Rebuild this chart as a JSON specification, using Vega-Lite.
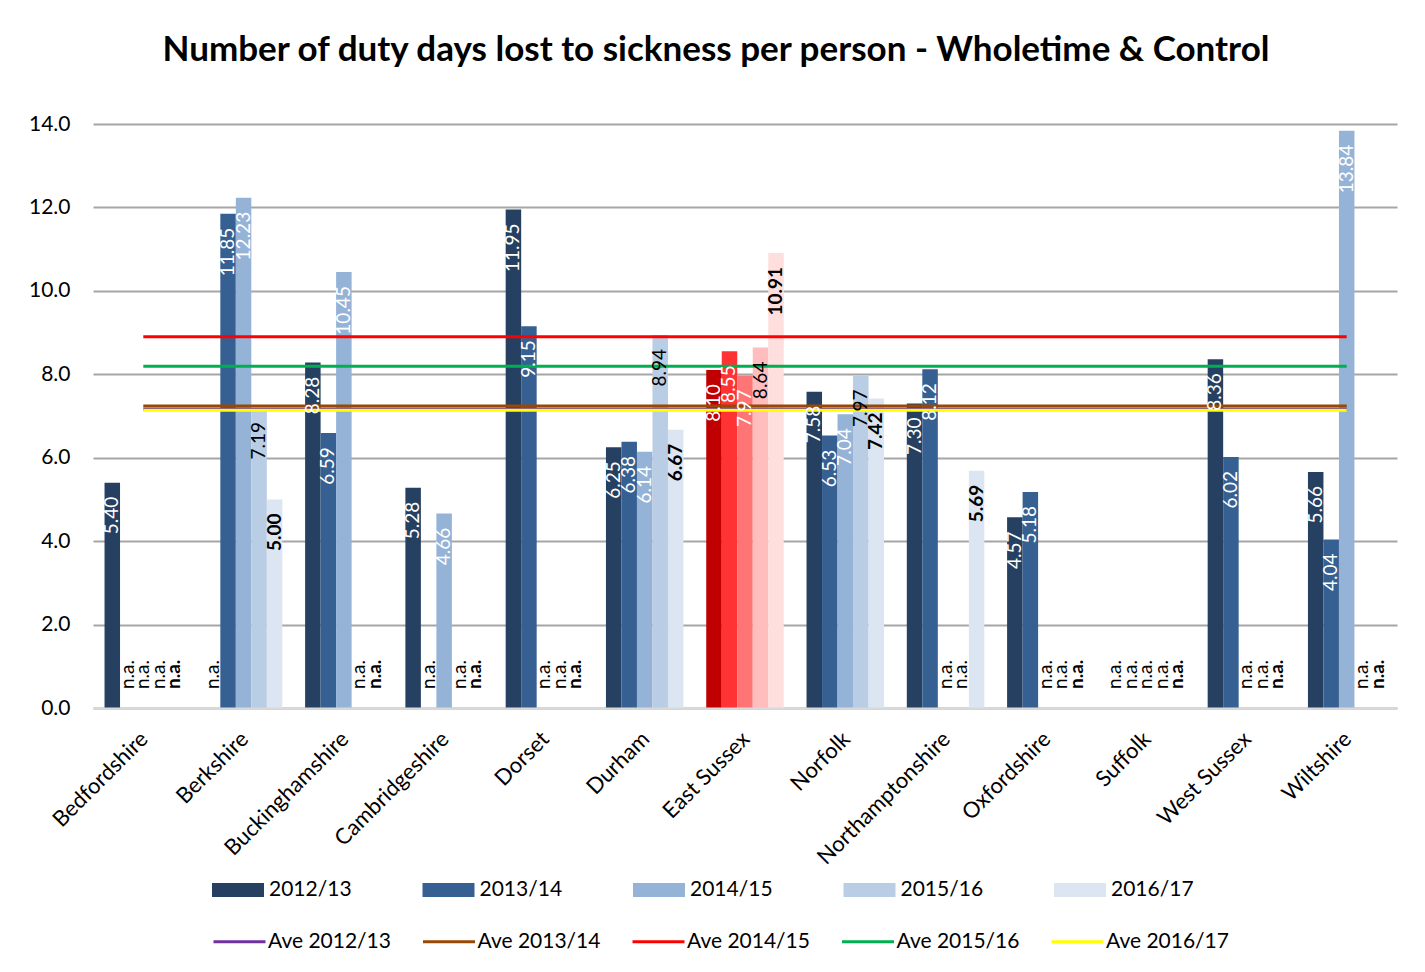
{
  "$schema": "https://vega.github.io/schema/vega-lite/v6.json",
  "width": 1304,
  "height": 584,
  "autosize": {"type": "none"},
  "padding": {"left": 93, "top": 124, "right": 28, "bottom": 264},
  "background": "white",
  "config": {
    "font": "Lato",
    "view": {"stroke": null},
    "axis": {"labelFont": "Lato", "labelColor": "black"}
  },
  "title": {
    "text": "Number of duty days lost to sickness per person - Wholetime & Control",
    "font": "Lato",
    "fontSize": 35,
    "fontWeight": "bold",
    "color": "black",
    "anchor": "middle",
    "offset": 45,
    "dx": -29
  },
  "datasets": {
    "bars": [
      {"county": "Bedfordshire", "year": "2012/13", "value": 5.40},
      {"county": "Bedfordshire", "year": "2013/14", "value": null},
      {"county": "Bedfordshire", "year": "2014/15", "value": null},
      {"county": "Bedfordshire", "year": "2015/16", "value": null},
      {"county": "Bedfordshire", "year": "2016/17", "value": null},
      {"county": "Berkshire", "year": "2012/13", "value": null},
      {"county": "Berkshire", "year": "2013/14", "value": 11.85},
      {"county": "Berkshire", "year": "2014/15", "value": 12.23},
      {"county": "Berkshire", "year": "2015/16", "value": 7.19},
      {"county": "Berkshire", "year": "2016/17", "value": 5.00},
      {"county": "Buckinghamshire", "year": "2012/13", "value": 8.28},
      {"county": "Buckinghamshire", "year": "2013/14", "value": 6.59},
      {"county": "Buckinghamshire", "year": "2014/15", "value": 10.45},
      {"county": "Buckinghamshire", "year": "2015/16", "value": null},
      {"county": "Buckinghamshire", "year": "2016/17", "value": null},
      {"county": "Cambridgeshire", "year": "2012/13", "value": 5.28},
      {"county": "Cambridgeshire", "year": "2013/14", "value": null},
      {"county": "Cambridgeshire", "year": "2014/15", "value": 4.66},
      {"county": "Cambridgeshire", "year": "2015/16", "value": null},
      {"county": "Cambridgeshire", "year": "2016/17", "value": null},
      {"county": "Dorset", "year": "2012/13", "value": 11.95},
      {"county": "Dorset", "year": "2013/14", "value": 9.15},
      {"county": "Dorset", "year": "2014/15", "value": null},
      {"county": "Dorset", "year": "2015/16", "value": null},
      {"county": "Dorset", "year": "2016/17", "value": null},
      {"county": "Durham", "year": "2012/13", "value": 6.25},
      {"county": "Durham", "year": "2013/14", "value": 6.38},
      {"county": "Durham", "year": "2014/15", "value": 6.14},
      {"county": "Durham", "year": "2015/16", "value": 8.94},
      {"county": "Durham", "year": "2016/17", "value": 6.67},
      {"county": "East Sussex", "year": "2012/13", "value": 8.10},
      {"county": "East Sussex", "year": "2013/14", "value": 8.55},
      {"county": "East Sussex", "year": "2014/15", "value": 7.97},
      {"county": "East Sussex", "year": "2015/16", "value": 8.64},
      {"county": "East Sussex", "year": "2016/17", "value": 10.91},
      {"county": "Norfolk", "year": "2012/13", "value": 7.58},
      {"county": "Norfolk", "year": "2013/14", "value": 6.53},
      {"county": "Norfolk", "year": "2014/15", "value": 7.04},
      {"county": "Norfolk", "year": "2015/16", "value": 7.97},
      {"county": "Norfolk", "year": "2016/17", "value": 7.42},
      {"county": "Northamptonshire", "year": "2012/13", "value": 7.30},
      {"county": "Northamptonshire", "year": "2013/14", "value": 8.12},
      {"county": "Northamptonshire", "year": "2014/15", "value": null},
      {"county": "Northamptonshire", "year": "2015/16", "value": null},
      {"county": "Northamptonshire", "year": "2016/17", "value": 5.69},
      {"county": "Oxfordshire", "year": "2012/13", "value": 4.57},
      {"county": "Oxfordshire", "year": "2013/14", "value": 5.18},
      {"county": "Oxfordshire", "year": "2014/15", "value": null},
      {"county": "Oxfordshire", "year": "2015/16", "value": null},
      {"county": "Oxfordshire", "year": "2016/17", "value": null},
      {"county": "Suffolk", "year": "2012/13", "value": null},
      {"county": "Suffolk", "year": "2013/14", "value": null},
      {"county": "Suffolk", "year": "2014/15", "value": null},
      {"county": "Suffolk", "year": "2015/16", "value": null},
      {"county": "Suffolk", "year": "2016/17", "value": null},
      {"county": "West Sussex", "year": "2012/13", "value": 8.36},
      {"county": "West Sussex", "year": "2013/14", "value": 6.02},
      {"county": "West Sussex", "year": "2014/15", "value": null},
      {"county": "West Sussex", "year": "2015/16", "value": null},
      {"county": "West Sussex", "year": "2016/17", "value": null},
      {"county": "Wiltshire", "year": "2012/13", "value": 5.66},
      {"county": "Wiltshire", "year": "2013/14", "value": 4.04},
      {"county": "Wiltshire", "year": "2014/15", "value": 13.84},
      {"county": "Wiltshire", "year": "2015/16", "value": null},
      {"county": "Wiltshire", "year": "2016/17", "value": null}
    ],
    "averages": [
      {"series": "Ave 2012/13", "ave": 7.16},
      {"series": "Ave 2013/14", "ave": 7.24},
      {"series": "Ave 2014/15", "ave": 8.90},
      {"series": "Ave 2015/16", "ave": 8.19},
      {"series": "Ave 2016/17", "ave": 7.14}
    ]
  },
  "layer": [
    {
      "data": {"name": "bars"},
      "transform": [{"filter": "datum.county !== 'East Sussex'"}],
      "mark": {"type": "bar"},
      "encoding": {
        "x": {
          "field": "county", "type": "nominal", "sort": null,
          "scale": {"domain": ["Bedfordshire", "Berkshire", "Buckinghamshire", "Cambridgeshire", "Dorset", "Durham", "East Sussex", "Norfolk", "Northamptonshire", "Oxfordshire", "Suffolk", "West Sussex", "Wiltshire"], "paddingInner": 0.227, "paddingOuter": 0.115},
          "axis": {"title": null, "labelAngle": -45, "ticks": false, "labelFontSize": 22, "labelPadding": 20, "labelOffset": -6, "domainColor": "#d9d9d9", "domainWidth": 2, "zindex": 1}
        },
        "xOffset": {"field": "year", "type": "nominal", "sort": null, "scale": {"domain": ["2012/13", "2013/14", "2014/15", "2015/16", "2016/17"], "paddingInner": 0, "paddingOuter": 0}},
        "y": {
          "field": "value", "type": "quantitative",
          "scale": {"domain": [0, 14], "nice": false},
          "axis": {"title": null, "values": [0, 2, 4, 6, 8, 10, 12, 14], "format": ".1f", "labelFontSize": 21, "labelPadding": 23, "ticks": false, "domain": false, "gridColor": "#a6a6a6", "gridWidth": 2}
        },
        "color": {
          "field": "year", "type": "nominal",
          "scale": {"domain": ["2012/13", "2013/14", "2014/15", "2015/16", "2016/17"], "range": ["#264061", "#376092", "#95b3d7", "#b9cde5", "#dce6f2"]},
          "legend": {"title": null, "orient": "none", "legendX": 119, "legendY": 740, "direction": "horizontal", "columns": 5, "gridAlign": "all", "columnPadding": 70.5, "symbolType": "M-1,-0.27L1,-0.27L1,0.27L-1,0.27Z", "symbolSize": 2704, "symbolStrokeWidth": 0, "symbolOpacity": 1, "labelFontSize": 21, "labelFont": "Lato", "labelColor": "black", "labelOffset": 5}
        }
      }
    },
    {
      "data": {"name": "bars"},
      "transform": [{"filter": "datum.county === 'East Sussex'"}],
      "mark": {"type": "bar"},
      "encoding": {
        "x": {"field": "county", "type": "nominal", "sort": null},
        "xOffset": {"field": "year", "type": "nominal", "sort": null},
        "y": {"field": "value", "type": "quantitative"},
        "fill": {
          "field": "year", "type": "nominal",
          "scale": {"domain": ["2012/13", "2013/14", "2014/15", "2015/16", "2016/17"], "range": ["#c00000", "#ff3333", "#ff7575", "#ffbdbd", "#ffdede"]},
          "legend": null
        }
      }
    },
    {
      "data": {"name": "averages"},
      "mark": {"type": "rule", "strokeWidth": 3},
      "encoding": {
        "x": {"datum": "Bedfordshire", "type": "nominal", "bandPosition": 0.5},
        "x2": {"datum": "Wiltshire", "bandPosition": 0.5},
        "y": {"field": "ave", "type": "quantitative"},
        "stroke": {
          "field": "series", "type": "nominal",
          "scale": {"domain": ["Ave 2012/13", "Ave 2013/14", "Ave 2014/15", "Ave 2015/16", "Ave 2016/17"], "range": ["#7030a0", "#974806", "#ff0000", "#00b050", "#ffff00"]},
          "legend": {"title": null, "orient": "none", "legendX": 119, "legendY": 790, "direction": "horizontal", "columns": 5, "gridAlign": "all", "columnPadding": 25.5, "symbolType": "stroke", "symbolSize": 2704, "symbolStrokeWidth": 3, "labelFontSize": 21, "labelFont": "Lato", "labelColor": "black", "labelOffset": 1}
        }
      }
    },
    {
      "data": {"name": "bars"},
      "transform": [{"filter": "datum.value !== null && datum.year !== '2016/17'"}],
      "mark": {"type": "text", "angle": -90, "align": "right", "baseline": "middle", "dx": -14, "fontSize": 19, "font": "Lato"},
      "encoding": {
        "x": {"field": "county", "type": "nominal", "sort": null},
        "xOffset": {"field": "year", "type": "nominal", "sort": null},
        "y": {"field": "value", "type": "quantitative"},
        "text": {"field": "value", "type": "quantitative", "format": ".2f"},
        "color": {"condition": {"test": "datum.year === '2015/16'", "value": "black"}, "value": "white"}
      }
    },
    {
      "data": {"name": "bars"},
      "transform": [{"filter": "datum.value !== null && datum.year === '2016/17'"}],
      "mark": {"type": "text", "angle": -90, "align": "right", "baseline": "middle", "dx": -14, "fontSize": 19, "font": "Lato", "fontWeight": "bold", "color": "black"},
      "encoding": {
        "x": {"field": "county", "type": "nominal", "sort": null},
        "xOffset": {"field": "year", "type": "nominal", "sort": null},
        "y": {"field": "value", "type": "quantitative"},
        "text": {"field": "value", "type": "quantitative", "format": ".2f"}
      }
    },
    {
      "data": {"name": "bars"},
      "transform": [{"filter": "datum.value === null && datum.year !== '2016/17'"}],
      "mark": {"type": "text", "angle": -90, "align": "left", "baseline": "middle", "dx": 19, "fontSize": 19, "font": "Lato", "color": "black"},
      "encoding": {
        "x": {"field": "county", "type": "nominal", "sort": null},
        "xOffset": {"field": "year", "type": "nominal", "sort": null},
        "y": {"datum": 0, "type": "quantitative"},
        "text": {"value": "n.a."}
      }
    },
    {
      "data": {"name": "bars"},
      "transform": [{"filter": "datum.value === null && datum.year === '2016/17'"}],
      "mark": {"type": "text", "angle": -90, "align": "left", "baseline": "middle", "dx": 19, "fontSize": 19, "font": "Lato", "fontWeight": "bold", "color": "black"},
      "encoding": {
        "x": {"field": "county", "type": "nominal", "sort": null},
        "xOffset": {"field": "year", "type": "nominal", "sort": null},
        "y": {"datum": 0, "type": "quantitative"},
        "text": {"value": "n.a."}
      }
    }
  ]
}
